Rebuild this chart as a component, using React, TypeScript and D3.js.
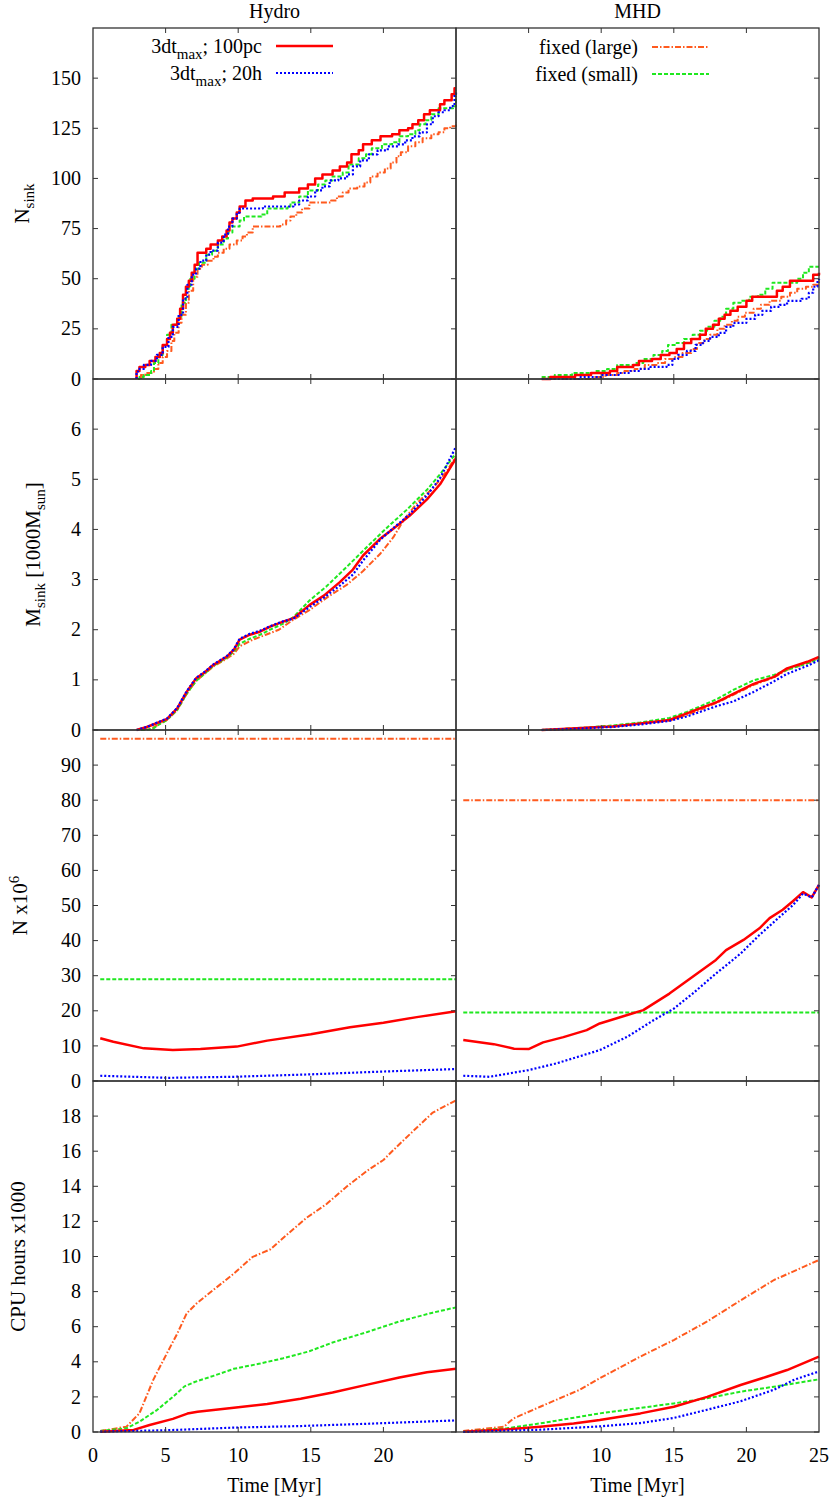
import React from 'react';
import * as d3 from 'd3';

type Pt = [number, number];

// series: r = 3dt_max;100pc, b = 3dt_max;20h, o = fixed (large), g = fixed (small)

// --- N_sink (step curves) ---
const hydroNsinkR: Pt[] = [[3.0,0],[3.0,4],[3.2,6],[3.6,7],[3.9,9],[4.3,11],[4.6,13],[4.8,17],[5.1,20],[5.3,23],[5.5,27],[5.8,30],[6.0,35],[6.2,42],[6.4,46],[6.6,49],[6.8,53],[7.0,57],[7.2,63],[7.8,65],[8.1,67],[8.6,69],[8.9,71],[9.2,74],[9.4,78],[9.6,80],[9.9,83],[10.1,86],[10.5,89],[11.0,90],[12.4,91],[13.2,93],[14.2,95],[14.8,97],[15.3,100],[15.8,102],[16.5,104],[17.0,106],[17.5,108],[17.8,112],[18.3,114],[18.6,117],[19.2,119],[19.8,121],[20.6,122],[21.1,124],[21.7,125],[22.0,127],[22.4,129],[22.8,132],[23.2,134],[23.9,137],[24.2,139],[24.7,142],[24.9,145],[25,145]];
const hydroNsinkB: Pt[] = [[3.0,0],[3.0,3],[3.1,5],[3.5,7],[4.0,9],[4.4,12],[4.8,16],[5.2,21],[5.5,26],[5.9,32],[6.2,40],[6.5,47],[6.8,52],[7.1,55],[7.4,59],[7.8,62],[8.1,64],[8.6,68],[9.0,72],[9.3,76],[9.6,80],[9.9,83],[10.1,85],[11.7,86],[13.8,87],[14.2,89],[14.8,91],[15.3,94],[15.8,96],[16.3,99],[16.9,100],[17.5,102],[17.9,106],[18.4,109],[19.0,112],[19.6,114],[20.3,116],[21.0,117],[21.5,119],[22.0,121],[22.5,123],[23.0,127],[23.4,131],[23.8,133],[24.2,134],[24.6,136],[24.9,142],[25,144]];
const hydroNsinkG: Pt[] = [[3.1,0],[3.2,1],[3.5,2],[4.0,4],[4.2,8],[4.5,12],[4.8,17],[5.1,22],[5.4,27],[5.8,31],[6.1,38],[6.4,45],[6.7,50],[7.0,55],[7.3,58],[7.8,62],[8.2,64],[8.6,67],[9.0,70],[9.3,73],[9.6,76],[10.1,79],[10.4,81],[11.6,82],[12.0,85],[13.4,86],[13.6,88],[14.2,91],[14.8,94],[15.5,97],[16.0,99],[16.5,101],[17.2,103],[17.6,107],[18.3,110],[18.8,112],[19.2,115],[19.9,117],[20.6,118],[21.1,121],[21.7,122],[22.2,124],[22.5,127],[22.9,129],[23.3,132],[23.8,135],[24.8,136],[25,141]];
const hydroNsinkO: Pt[] = [[3.3,0],[3.3,2],[3.6,3],[4.2,5],[4.5,8],[4.8,11],[5.1,14],[5.4,19],[5.6,23],[5.9,28],[6.1,32],[6.4,38],[6.6,44],[6.9,51],[7.2,55],[7.5,57],[7.9,59],[8.3,61],[8.6,63],[9.0,65],[9.4,67],[9.9,69],[10.3,71],[10.6,73],[11.0,76],[12.9,77],[13.3,79],[13.6,81],[14.0,83],[14.4,85],[14.9,88],[16.4,89],[16.8,91],[17.2,93],[17.6,95],[18.2,96],[18.7,98],[19.1,101],[19.6,103],[20.1,105],[20.5,108],[20.9,111],[21.2,113],[21.7,116],[22.2,118],[22.7,120],[23.3,122],[23.8,123],[24.2,125],[24.6,126],[25,128]];

const mhdNsinkR: Pt[] = [[5.9,0],[6.5,1],[8.2,2],[9.3,3],[10.6,4],[11.1,6],[12.2,7],[12.6,9],[13.5,10],[14.1,12],[14.7,13],[15.2,15],[15.7,18],[16.2,20],[16.8,22],[17.2,25],[17.7,27],[18.1,30],[18.5,32],[18.9,34],[19.4,36],[20.0,39],[20.4,41],[22.1,44],[22.5,46],[23.0,49],[24.6,52],[25,53]];
const mhdNsinkB: Pt[] = [[5.9,0],[8.5,1],[10.0,2],[11.2,3],[12.0,4],[12.6,5],[13.4,6],[14.5,7],[14.9,10],[15.3,12],[15.9,14],[16.5,17],[17.0,19],[17.5,21],[18.1,23],[18.6,26],[19.1,28],[20.0,30],[20.6,32],[21.1,34],[21.7,36],[22.3,37],[22.8,39],[23.8,40],[24.3,43],[24.6,46],[24.9,49],[25,50]];
const mhdNsinkG: Pt[] = [[5.9,1],[6.8,2],[8.0,3],[9.6,4],[10.4,5],[11.1,7],[12.3,8],[12.9,10],[13.6,12],[14.2,14],[14.6,17],[15.2,18],[15.7,20],[16.3,22],[16.8,24],[17.3,26],[17.8,29],[18.2,31],[18.6,35],[19.1,38],[19.6,39],[20.2,41],[20.8,42],[21.3,45],[21.8,48],[23.5,50],[23.9,53],[24.3,56],[25,56]];
const mhdNsinkO: Pt[] = [[6.5,0],[9.5,1],[10.3,2],[11.1,3],[11.6,4],[12.3,5],[13.0,7],[13.8,8],[14.4,10],[15.0,11],[15.6,13],[16.2,15],[16.6,18],[17.1,20],[17.5,22],[18.0,25],[18.5,27],[19.0,29],[19.4,31],[19.9,33],[20.5,35],[21.0,37],[21.6,39],[22.4,41],[23.0,43],[23.5,45],[24.1,46],[24.6,47],[25,49]];

// --- M_sink [1000 Msun] ---
const hydroMsinkR: Pt[] = [[3.0,0],[3.7,0.06],[4.6,0.16],[5.1,0.22],[5.8,0.43],[6.45,0.76],[7.1,1.03],[7.6,1.13],[8.3,1.3],[9.2,1.46],[9.7,1.6],[10.1,1.8],[10.8,1.9],[11.5,1.96],[12.2,2.06],[13.1,2.16],[13.8,2.23],[14.9,2.49],[15.9,2.68],[17.0,2.95],[17.9,3.2],[18.6,3.48],[19.8,3.82],[20.7,4.02],[21.8,4.27],[23.0,4.6],[23.9,4.9],[25,5.42]];
const hydroMsinkB: Pt[] = [[3.0,0],[3.7,0.06],[4.6,0.17],[5.1,0.23],[5.8,0.44],[6.45,0.77],[7.1,1.04],[7.6,1.14],[8.3,1.31],[9.2,1.47],[9.7,1.61],[10.1,1.82],[10.8,1.92],[11.5,1.98],[12.2,2.07],[13.1,2.17],[13.8,2.22],[14.9,2.45],[15.9,2.64],[17.0,2.88],[17.9,3.1],[18.6,3.38],[19.8,3.8],[20.7,4.03],[21.8,4.3],[23.0,4.68],[23.9,5.02],[25,5.65]];
const hydroMsinkG: Pt[] = [[3.3,0],[4.1,0.02],[4.6,0.12],[5.1,0.2],[5.8,0.4],[6.45,0.72],[7.1,0.98],[7.6,1.1],[8.3,1.28],[9.2,1.44],[9.7,1.56],[10.1,1.72],[10.8,1.82],[11.5,1.9],[12.2,2.0],[13.1,2.12],[13.8,2.25],[14.9,2.58],[16.1,2.87],[17.5,3.26],[18.9,3.66],[20.3,4.05],[21.6,4.39],[23.0,4.79],[23.9,5.1],[25,5.52]];
const hydroMsinkO: Pt[] = [[3.3,0],[4.1,0.04],[4.6,0.12],[5.1,0.2],[5.8,0.4],[6.45,0.72],[7.1,0.98],[7.6,1.1],[8.3,1.27],[9.2,1.42],[9.7,1.52],[10.1,1.67],[11.0,1.8],[11.9,1.9],[12.8,2.0],[13.8,2.2],[14.9,2.39],[16.1,2.64],[17.5,2.9],[18.6,3.17],[19.8,3.52],[20.7,3.85],[21.4,4.19],[22.3,4.52],[23.5,4.85],[24.4,5.18],[25,5.46]];

const mhdMsinkR: Pt[] = [[5.9,0],[8.0,0.03],[9.9,0.06],[10.8,0.07],[12.7,0.13],[14.7,0.2],[15.9,0.33],[16.8,0.43],[18.0,0.56],[19.1,0.72],[20.5,0.92],[21.9,1.06],[22.8,1.23],[24.2,1.36],[25,1.46]];
const mhdMsinkB: Pt[] = [[5.9,0],[8.0,0.02],[9.9,0.05],[10.8,0.06],[12.7,0.11],[14.7,0.18],[15.9,0.27],[16.8,0.36],[18.0,0.48],[19.1,0.57],[20.5,0.76],[21.9,0.97],[22.8,1.12],[24.2,1.28],[25,1.39]];
const mhdMsinkG: Pt[] = [[5.9,0],[8.0,0.03],[9.9,0.07],[10.8,0.09],[12.7,0.15],[14.7,0.24],[15.9,0.36],[16.8,0.47],[18.0,0.62],[19.1,0.8],[20.5,0.99],[21.9,1.1],[22.8,1.2],[24.2,1.33],[25,1.42]];
const mhdMsinkO: Pt[] = [[5.9,0],[8.0,0.03],[9.9,0.06],[10.8,0.07],[12.7,0.13],[14.7,0.19],[15.9,0.3],[16.8,0.4],[18.0,0.55],[19.1,0.7],[20.5,0.9],[21.9,1.05],[22.8,1.2],[24.2,1.33],[25,1.44]];

// --- N x10^6 ---
const hydroNR: Pt[] = [[0.5,12.2],[1.4,11.2],[3.5,9.3],[5.5,8.8],[7.4,9.1],[9.9,9.8],[12.0,11.5],[15.0,13.3],[17.7,15.3],[20.0,16.6],[22.3,18.2],[25,19.9]];
const hydroNB: Pt[] = [[0.5,1.5],[5.1,0.9],[9.7,1.2],[15.0,1.9],[20.0,2.7],[25,3.4]];
const hydroNG: Pt[] = [[0.5,29],[25,29]];
const hydroNO: Pt[] = [[0.5,97.5],[25,97.5]];

const mhdNR: Pt[] = [[0.5,11.7],[2.6,10.5],[4.0,9.2],[5.0,9.1],[6.0,11.0],[7.4,12.5],[9.0,14.5],[9.9,16.4],[11.8,18.8],[12.9,20.2],[14.7,24.9],[16.3,29.7],[17.9,34.5],[18.6,37.3],[19.8,40.2],[20.9,43.5],[21.6,46.4],[22.5,48.8],[23.2,51.2],[23.9,53.8],[24.5,52.3],[25,55.9]];
const mhdNB: Pt[] = [[0.5,1.5],[2.3,1.2],[5.0,3.1],[6.9,5.0],[9.9,8.8],[11.8,12.6],[13.6,17.3],[15.0,20.6],[16.3,24.9],[17.9,30.6],[19.6,36.3],[20.9,41.6],[22.3,46.8],[23.2,50.1],[23.9,53.4],[24.5,52.3],[25,55.9]];
const mhdNG: Pt[] = [[0.5,19.5],[25,19.5]];
const mhdNO: Pt[] = [[0.5,80],[25,80]];

// --- CPU hours x1000 ---
const hydroCpuR: Pt[] = [[0.5,0.02],[2.8,0.12],[3.9,0.4],[5.5,0.75],[6.5,1.05],[7.2,1.15],[9.7,1.38],[12.0,1.6],[14.3,1.9],[16.5,2.25],[18.9,2.7],[21.1,3.1],[23.0,3.4],[25,3.6]];
const hydroCpuB: Pt[] = [[0.5,0.02],[5.1,0.1],[9.7,0.25],[14.3,0.34],[18.9,0.47],[25,0.66]];
const hydroCpuG: Pt[] = [[0.5,0.06],[2.3,0.21],[3.2,0.59],[4.4,1.25],[5.5,2.0],[6.3,2.6],[7.0,2.85],[8.3,3.2],[9.7,3.6],[11.5,3.9],[13.1,4.2],[14.9,4.6],[16.5,5.1],[18.9,5.7],[21.1,6.3],[23.4,6.8],[25,7.1]];
const hydroCpuO: Pt[] = [[0.5,0.06],[2.3,0.3],[3.2,1.07],[4.15,2.97],[5.1,4.5],[5.8,5.6],[6.45,6.76],[7.1,7.3],[8.3,8.1],[9.7,9.03],[11.0,9.98],[12.2,10.4],[13.3,11.2],[14.7,12.2],[16.1,13.0],[17.5,14.0],[18.9,14.9],[20.0,15.5],[21.1,16.4],[22.5,17.5],[23.4,18.2],[25,18.9]];

const mhdCpuR: Pt[] = [[0.5,0.02],[3.5,0.15],[5.8,0.3],[8.1,0.49],[9.9,0.68],[12.7,1.06],[15.0,1.44],[17.3,2.0],[19.6,2.68],[21.4,3.15],[22.8,3.53],[25,4.29]];
const mhdCpuB: Pt[] = [[0.5,0],[5.8,0.13],[9.9,0.32],[12.7,0.51],[15.0,0.8],[17.3,1.27],[19.6,1.75],[21.9,2.41],[23.3,2.98],[25,3.45]];
const mhdCpuG: Pt[] = [[0.5,0.02],[3.5,0.21],[5.8,0.49],[9.9,1.06],[15.0,1.63],[17.3,1.92],[19.6,2.3],[21.9,2.58],[25,3.0]];
const mhdCpuO: Pt[] = [[0.5,0.06],[3.3,0.3],[3.95,0.77],[5.8,1.44],[8.5,2.4],[9.9,3.06],[12.7,4.3],[15.0,5.24],[17.3,6.3],[19.6,7.5],[21.9,8.66],[25,9.8]];

const yDomains = [175, 7, 100, 20];
const yTicks = [
  [0, 25, 50, 75, 100, 125, 150],
  [0, 1, 2, 3, 4, 5, 6],
  [0, 10, 20, 30, 40, 50, 60, 70, 80, 90],
  [0, 2, 4, 6, 8, 10, 12, 14, 16, 18],
];
const xTickValues = [0, 5, 10, 15, 20, 25];
const xLabelsLeft = [0, 5, 10, 15, 20];
const xLabelsRight = [5, 10, 15, 20, 25];

const styles: Record<string, { color: string; width: number; dash?: string }> = {
  o: { color: '#ff5a1e', width: 2, dash: '6,2,1.5,2' },
  g: { color: '#1fe81f', width: 2, dash: '4,2' },
  r: { color: '#ff0000', width: 2.5 },
  b: { color: '#0000ff', width: 2.2, dash: '2,2' },
};

const rows = [
  { hydro: { o: hydroNsinkO, g: hydroNsinkG, r: hydroNsinkR, b: hydroNsinkB }, mhd: { o: mhdNsinkO, g: mhdNsinkG, r: mhdNsinkR, b: mhdNsinkB }, step: true },
  { hydro: { o: hydroMsinkO, g: hydroMsinkG, r: hydroMsinkR, b: hydroMsinkB }, mhd: { o: mhdMsinkO, g: mhdMsinkG, r: mhdMsinkR, b: mhdMsinkB }, step: false },
  { hydro: { o: hydroNO, g: hydroNG, r: hydroNR, b: hydroNB }, mhd: { o: mhdNO, g: mhdNG, r: mhdNR, b: mhdNB }, step: false },
  { hydro: { o: hydroCpuO, g: hydroCpuG, r: hydroCpuR, b: hydroCpuB }, mhd: { o: mhdCpuO, g: mhdCpuG, r: mhdCpuR, b: mhdCpuB }, step: false },
];

const TOP = 28;
const PH = 351;
const xL = d3.scaleLinear().domain([0, 25]).range([93, 456]);
const xR = d3.scaleLinear().domain([0, 25]).range([456, 819]);
const FONT = "'Liberation Serif', 'DejaVu Serif', 'Times New Roman', serif";
const FRAME = '#333';

export default function App() {
  const panels: React.ReactNode[] = [];

  rows.forEach((row, i) => {
    const top = TOP + i * PH;
    const bottom = top + PH;
    const y = d3.scaleLinear().domain([0, yDomains[i]]).range([bottom, top]);

    [['hydro', xL], ['mhd', xR]].forEach(([side, x]: any) => {
      const data = (row as any)[side];
      const line = d3.line<Pt>().x(d => x(d[0])).y(d => y(d[1]))
        .curve(row.step ? d3.curveStepAfter : d3.curveLinear);
      ['o', 'g', 'r', 'b'].forEach(k => {
        const s = styles[k];
        panels.push(
          <path key={`${i}-${side}-${k}`} d={line(data[k]) || ''} fill="none"
            stroke={s.color} strokeWidth={s.width} strokeDasharray={s.dash}
            strokeLinejoin="round" />
        );
      });

      // x ticks top and bottom
      xTickValues.slice(1, -1).forEach(t => {
        panels.push(<line key={`xt-${i}-${side}-${t}`} x1={x(t)} x2={x(t)} y1={top} y2={top + 5} stroke={FRAME} />);
        panels.push(<line key={`xb-${i}-${side}-${t}`} x1={x(t)} x2={x(t)} y1={bottom} y2={bottom - 5} stroke={FRAME} />);
      });
    });

    // y ticks: left axis, middle (pointing left), right axis
    yTicks[i].forEach(v => {
      panels.push(<line key={`yl-${i}-${v}`} x1={93} x2={98} y1={y(v)} y2={y(v)} stroke={FRAME} />);
      panels.push(<line key={`ym-${i}-${v}`} x1={451} x2={456} y1={y(v)} y2={y(v)} stroke={FRAME} />);
      panels.push(<line key={`yr-${i}-${v}`} x1={814} x2={819} y1={y(v)} y2={y(v)} stroke={FRAME} />);
      panels.push(
        <text key={`yt-${i}-${v}`} x={81} y={y(v)} dy="0.33em" textAnchor="end" fontSize={20}>{v}</text>
      );
    });

    // frames
    panels.push(<rect key={`fl-${i}`} x={93} y={top} width={363} height={PH} fill="none" stroke={FRAME} strokeWidth={1.3} />);
    panels.push(<rect key={`fr-${i}`} x={456} y={top} width={363} height={PH} fill="none" stroke={FRAME} strokeWidth={1.3} />);
  });

  const bottomY = TOP + 4 * PH;

  const legendRow = (xEnd: number, yBase: number, k: string, label: React.ReactNode) => {
    const s = styles[k];
    return (
      <g key={`lg-${k}`}>
        <text x={xEnd} y={yBase} textAnchor="end" fontSize={20}>{label}</text>
        <line x1={xEnd + 14} x2={xEnd + 71} y1={yBase - 7} y2={yBase - 7}
          stroke={s.color} strokeWidth={s.width} strokeDasharray={s.dash} />
      </g>
    );
  };

  return (
    <div style={{ position: 'absolute', left: 0, top: 0 }}>
      <svg width={830} height={1501} style={{ display: 'block', background: '#fff', fontFamily: FONT }}>
        <rect x={0} y={0} width={830} height={1501} fill="#fff" />
        <text x={(93 + 456) / 2} y={18} textAnchor="middle" fontSize={20}>Hydro</text>
        <text x={(456 + 819) / 2} y={18} textAnchor="middle" fontSize={20}>MHD</text>
        {panels}
        {xLabelsLeft.map(t => (
          <text key={`xl-${t}`} x={xL(t)} y={bottomY + 30} textAnchor="middle" fontSize={20}>{t}</text>
        ))}
        {xLabelsRight.map(t => (
          <text key={`xr-${t}`} x={xR(t)} y={bottomY + 30} textAnchor="middle" fontSize={20}>{t}</text>
        ))}
        <text x={(93 + 456) / 2} y={bottomY + 60} textAnchor="middle" fontSize={20}>Time [Myr]</text>
        <text x={(456 + 819) / 2} y={bottomY + 60} textAnchor="middle" fontSize={20}>Time [Myr]</text>

        <text transform={`translate(29,${TOP + PH / 2}) rotate(-90)`} textAnchor="middle" fontSize={21}>
          N<tspan dy={5} fontSize={15}>sink</tspan>
        </text>
        <text transform={`translate(40,${TOP + PH * 1.5}) rotate(-90)`} textAnchor="middle" fontSize={21}>
          M<tspan dy={5} fontSize={15}>sink</tspan><tspan dy={-5}> [1000M</tspan><tspan dy={5} fontSize={15}>sun</tspan><tspan dy={-5}>]</tspan>
        </text>
        <text transform={`translate(27,${TOP + PH * 2.5}) rotate(-90)`} textAnchor="middle" fontSize={21}>
          N x10<tspan dy={-8} fontSize={15}>6</tspan>
        </text>
        <text transform={`translate(25,${TOP + PH * 3.5}) rotate(-90)`} textAnchor="middle" fontSize={21}>
          CPU hours x1000
        </text>

        {legendRow(262, 53, 'r', <>3dt<tspan dy={6} fontSize={15}>max</tspan><tspan dy={-6}>; 100pc</tspan></>)}
        {legendRow(262, 80, 'b', <>3dt<tspan dy={6} fontSize={15}>max</tspan><tspan dy={-6}>; 20h</tspan></>)}
        {legendRow(638, 54, 'o', 'fixed (large)')}
        {legendRow(638, 81, 'g', 'fixed (small)')}
      </svg>
    </div>
  );
}
